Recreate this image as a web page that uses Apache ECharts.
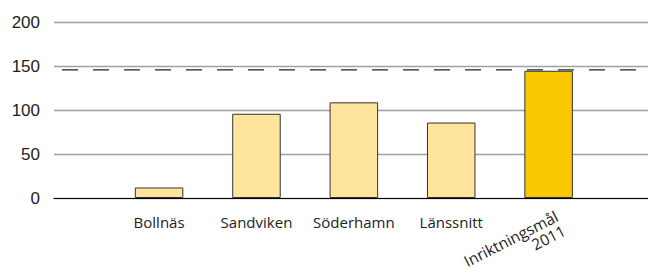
<!DOCTYPE html>
<html>
<head>
<meta charset="utf-8">
<script src="https://cdn.jsdelivr.net/npm/echarts@6/dist/echarts.min.js"></script>
<style>html,body{margin:0;padding:0;background:#fff}#c{width:648px;height:267px}</style>
</head>
<body>
<div id="c"></div>
<script>
const categories = ['Bollnäs', 'Sandviken', 'Söderhamn', 'Länssnitt', 'Inriktningsmål\n2011'];
const values = [12, 96, 109, 86, 145];
const highlightIndex = 4;
const targetValue = 146;
const yTicks = [0, 50, 100, 150, 200];

const chart = echarts.init(document.getElementById('c'), null, {renderer: 'svg'});
const gTop = 22.5, gBottom = 69;
const gridBase = {top: gTop, bottom: gBottom, containLabel: false, outerBoundsMode: 'none'};
chart.setOption({
  animation: false,
  grid: [
    Object.assign({left: 54, right: 0}, gridBase),
    Object.assign({left: 110.4, right: 50.7}, gridBase),
    Object.assign({left: 115, right: 46.1}, gridBase)
  ],
  xAxis: [
    {gridIndex: 0, type: 'value', min: 0, max: 1,
     axisLine: {show: true, onZero: false, lineStyle: {color: '#000', width: 1.2}},
     axisTick: {show: false}, axisLabel: {show: false}, splitLine: {show: false}},
    {gridIndex: 1, type: 'category', data: categories,
     axisLine: {show: false}, axisTick: {show: false},
     axisLabel: {interval: 0, margin: 16, fontFamily: 'Open Sans', fontSize: 15, color: '#222',
       formatter: (v, i) => i === highlightIndex ? '' : v}},
    {gridIndex: 2, type: 'category', data: categories,
     axisLine: {show: false}, axisTick: {show: false},
     axisLabel: {interval: 0, margin: 10, rotate: 27, align: 'right', verticalAlign: 'top',
       fontFamily: 'Open Sans', fontSize: 15.5, color: '#222', lineHeight: 16,
       formatter: (v, i) => i === highlightIndex ? v : ''}}
  ],
  yAxis: [
    {gridIndex: 0, type: 'value', min: yTicks[0], max: yTicks[yTicks.length - 1], interval: 50,
     axisLine: {show: false}, axisTick: {show: false},
     axisLabel: {margin: 14, fontFamily: 'Liberation Sans', fontSize: 17, color: '#222'},
     splitLine: {show: true, lineStyle: {color: '#a0a0a0', width: 1.3}}},
    {gridIndex: 1, type: 'value', min: 0, max: 200, show: false},
    {gridIndex: 2, type: 'value', min: 0, max: 200, show: false}
  ],
  series: [
    {type: 'bar', xAxisIndex: 1, yAxisIndex: 1, barWidth: 48.5,
     data: values.map((v, i) => ({
       value: v,
       itemStyle: {color: i === highlightIndex ? '#FAC800' : '#FFE49C', borderColor: '#333', borderWidth: 1}
     })), z: 3},
    {type: 'line', xAxisIndex: 0, yAxisIndex: 0, data: [[0, targetValue], [1, targetValue]],
     symbol: 'none', lineStyle: {color: '#222', width: 1.4, type: [16, 15], dashOffset: -8}, z: 2}
  ]
});
</script>
</body>
</html>
